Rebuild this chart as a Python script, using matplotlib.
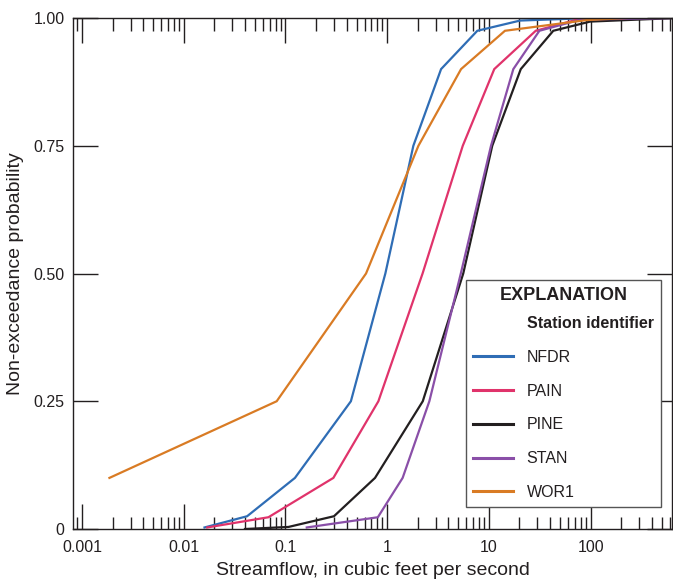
import matplotlib
matplotlib.use("Agg")
import matplotlib.pyplot as plt
from matplotlib.lines import Line2D
from matplotlib.ticker import FixedLocator, LogLocator, NullFormatter

plt.rcParams['font.family'] = ['Liberation Sans', 'DejaVu Sans']

# non-exceedance probability vs streamflow (cfs)
nfdr_p = [0.003, 0.025, 0.1, 0.25, 0.5, 0.75, 0.9, 0.975, 0.995, 1.0]
nfdr_q = [0.016, 0.042, 0.124, 0.44, 0.96, 1.81, 3.39, 7.7, 20.3, 100]

pain_p = [0.003, 0.023, 0.1, 0.25, 0.5, 0.75, 0.9, 0.975, 0.996, 1.0]
pain_q = [0.017, 0.068, 0.296, 0.82, 2.23, 5.54, 11.3, 28.9, 71, 150]

pine_p = [0.0, 0.004, 0.025, 0.1, 0.25, 0.5, 0.75, 0.9, 0.975, 0.993, 1.0]
pine_q = [0.04, 0.107, 0.30, 0.76, 2.24, 5.6, 10.8, 20.6, 43, 99, 700]

stan_p = [0.003, 0.023, 0.1, 0.25, 0.5, 0.75, 0.9, 0.975, 0.997, 1.0]
stan_q = [0.162, 0.81, 1.42, 2.60, 5.3, 10.5, 17.4, 31.4, 80, 700]

wor1_p = [0.1, 0.25, 0.5, 0.75, 0.9, 0.975, 0.996, 1.0]
wor1_q = [0.00186, 0.082, 0.62, 2.03, 5.33, 14.4, 92, 227]

stations = ["NFDR", "PAIN", "PINE", "STAN", "WOR1"]
colors = ["#2f6db5", "#e0336b", "#231f20", "#8a4fa8", "#d97b24"]

xticks = [0.001, 0.01, 0.1, 1, 10, 100]
xtick_labels = ["0.001", "0.01", "0.1", "1", "10", "100"]
yticks = [0, 0.25, 0.5, 0.75, 1.0]
ytick_labels = ["0", "0.25", "0.50", "0.75", "1.00"]

fig = plt.figure(figsize=(6.73, 5.81), dpi=100)
ax = fig.add_axes([73/673, 1 - 529/581, 599/673, 511/581])

series = [(nfdr_q, nfdr_p), (pain_q, pain_p), (pine_q, pine_p), (stan_q, stan_p), (wor1_q, wor1_p)]
for (q, p), name, c in zip(series, stations, colors):
    ax.plot(q, p, color=c, lw=1.6, label=name, solid_joinstyle="miter")

ax.set_xscale("log")
ax.set_xlim(8.15e-4, 632)
ax.set_ylim(0, 1)

ax.xaxis.set_major_locator(FixedLocator(xticks))
ax.set_xticklabels(xtick_labels)
ax.xaxis.set_minor_locator(LogLocator(base=10, subs=range(2, 10), numticks=20))
ax.xaxis.set_minor_formatter(NullFormatter())
ax.set_yticks(yticks)
ax.set_yticklabels(ytick_labels)

textc = "#231f20"
ax.tick_params(which="major", direction="in", length=18, width=1, top=True, right=True,
               labelsize=11.5, colors=textc)
ax.tick_params(axis="x", which="major", pad=8)
ax.tick_params(axis="y", which="major", pad=6)
ax.tick_params(which="minor", direction="in", length=9, width=1, top=True, right=True, colors=textc)
for s in ax.spines.values():
    s.set_color(textc)
    s.set_linewidth(1)

ax.set_xlabel("Streamflow, in cubic feet per second", fontsize=14, color=textc, labelpad=5)
ax.set_ylabel("Non-exceedance probability", fontsize=14, color=textc, labelpad=7)

# legend with a bold sub-heading row
handles = [Line2D([], [], lw=0)] + [Line2D([], [], color=c, lw=2.2) for c in colors]
labels = ["Station identifier"] + stations
leg = ax.legend(handles, labels, title="EXPLANATION", loc="lower left",
                bbox_to_anchor=(0.656, 0.043), fontsize=11.5, frameon=True, fancybox=False,
                edgecolor="#555555", framealpha=1, handlelength=2.5, handletextpad=0.85,
                labelspacing=1.17, borderpad=0.45, borderaxespad=0)
leg.get_frame().set_linewidth(1)
leg.get_title().set_fontsize(13)
leg.get_title().set_fontweight("bold")
leg.get_title().set_color(textc)
leg._legend_box.sep = 9
for t in leg.get_texts():
    t.set_color(textc)
leg.get_texts()[0].set_fontweight("bold")

fig.savefig("out.png", dpi=100)
